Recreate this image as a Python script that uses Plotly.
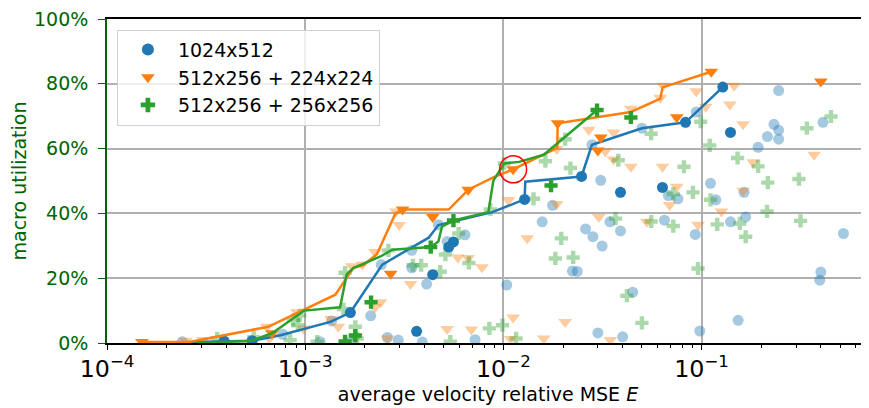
import plotly.graph_objects as go

# ---- data (x: average velocity relative MSE, y: macro utilization in %) ----
series_names = ['1024x512', '512x256 + 224x224', '512x256 + 256x256']

# 1024x512
blue_front_x = [2.4e-4, 3.9e-4, 5.4e-4, 7.5e-4, 1.34e-3, 1.69e-3, 2.45e-3, 4.2e-3, 4.7e-3, 8.8e-3,
                1.28e-2, 1.29e-2, 2.48e-2, 2.8e-2, 5.0e-2, 8.3e-2, 1.28e-1]
blue_front_y = [0.2, 0.6, 0.7, 2.4, 6.5, 9.4, 24.2, 32.5, 36.4, 40.4,
                44.3, 49.8, 51.4, 61.2, 66.3, 68.1, 79.0]
blue_best_x = [3.9e-4, 5.4e-4, 1.69e-3, 1.28e-2, 2.48e-2, 8.3e-2, 1.28e-1,
               3.65e-3, 4.4e-3, 5.3e-3, 5.6e-3, 3.9e-2, 6.35e-2, 1.4e-1]
blue_best_y = [0.6, 0.7, 9.4, 44.3, 51.4, 68.1, 79.0,
               3.6, 21.1, 29.6, 31.2, 46.5, 48.0, 65.0]
blue_all_x = [2.4e-4, 7.7e-4, 1.36e-3, 1.19e-3, 1.69e-3, 2.14e-3, 2.42e-3, 2.6e-3, 2.95e-3, 3.45e-3,
              3.45e-3, 3.9e-3, 4.1e-3, 4.7e-3, 5.2e-3, 6.4e-3, 7.2e-3, 1.04e-2, 1.57e-2, 1.77e-2,
              2.23e-2, 2.36e-2, 2.6e-2, 2.83e-2, 3.15e-2, 2.8e-2, 3.1e-2, 3.45e-2, 3.9e-2, 3.0e-2,
              4.0e-2, 4.5e-2, 5.0e-2, 6.5e-2, 6.8e-2, 7.6e-2, 9.3e-2, 9.4e-2, 9.8e-2, 1.11e-1,
              1.18e-1, 1.4e-1, 1.64e-1, 1.67e-1, 1.53e-1, 1.93e-1, 2.15e-1, 2.32e-1, 2.45e-1, 2.45e-1,
              2.45e-1, 4.1e-1, 5.2e-1, 4.0e-1, 3.95e-1]
blue_all_y = [0.4, 2.7, 6.8, 0.4, 0.2, 8.4, 24.2, 1.7, 0.9, 28.6,
              23.2, 0.3, 18.2, 36.5, 31.3, 33.4, 1.0, 17.9, 37.4, 42.5,
              22.2, 22.1, 35.2, 32.8, 29.9, 61.2, 50.2, 37.4, 34.6, 3.1,
              1.9, 15.7, 66.3, 37.9, 45.5, 44.5, 33.5, 71.3, 3.7, 49.3,
              44.2, 37.4, 46.5, 38.9, 7.0, 60.4, 63.7, 67.5, 65.7, 62.9,
              77.9, 68.1, 33.8, 21.9, 19.4]

# 512x256 + 224x224
orange_front_x = [1.5e-4, 2.6e-4, 6.5e-4, 1.42e-3, 1.75e-3, 1.96e-3, 2.3e-3, 2.85e-3, 3.1e-3, 5.3e-3,
                  6.65e-3, 8.9e-3, 1.12e-2, 1.6e-2, 1.87e-2, 1.88e-2, 4.4e-2, 6.2e-2, 6.35e-2, 1.12e-1]
orange_front_y = [0.3, 0.3, 5.0, 14.9, 23.2, 24.0, 27.4, 39.9, 41.2, 41.2,
                  47.3, 51.1, 53.6, 58.1, 60.2, 67.8, 71.3, 75.4, 78.9, 83.7]
orange_best_x = [1.5e-4, 3.1e-3, 6.65e-3, 1.12e-2, 1.88e-2, 1.12e-1,
                 6.8e-4, 2.7e-3, 4.4e-3, 3.0e-2, 3.1e-2, 7.5e-2, 4.0e-1]
orange_best_y = [0.3, 41.2, 47.3, 53.6, 67.8, 83.7,
                 3.0, 21.4, 38.9, 59.4, 63.4, 69.7, 80.7]
orange_all_x = [2.5e-4, 3.05e-4, 6.4e-4, 6.6e-4, 9.1e-4, 9.8e-4, 1.35e-3, 1.47e-3, 1.72e-3, 1.94e-3,
                2.25e-3, 1.82e-3, 2.25e-3, 2.4e-3, 2.6e-3, 2.87e-3, 2.98e-3, 3.4e-3, 5.2e-3, 5.9e-3,
                6.65e-3, 7.8e-3, 6.9e-3, 1.06e-2, 1.12e-2, 1.09e-2, 1.32e-2, 1.6e-2, 1.86e-2, 1.86e-2,
                2.05e-2, 2.7e-2, 3.03e-2, 3.27e-2, 3.6e-2, 3.47e-2, 3.6e-2, 4.4e-2, 4.4e-2, 5.3e-2,
                6.2e-2, 6.4e-2, 6.35e-2, 6.9e-2, 7.5e-2, 9.4e-2, 9.6e-2, 1.05e-1, 1.26e-1, 1.39e-1,
                1.46e-1, 1.62e-1, 1.62e-1, 1.82e-1, 3.7e-1]
orange_all_y = [0.7, 0.9, 5.0, 1.4, 9.5, 4.5, 7.4, 5.0, 23.7, 24.2,
                28.1, 1.9, 11.0, 12.6, 1.4, 40.6, 36.4, 18.2, 4.3, 26.4,
                26.2, 23.4, 4.2, 44.1, 7.9, 1.2, 32.3, 1.4, 42.9, 59.9,
                6.5, 65.8, 38.9, 59.2, 65.0, 0.9, 56.6, 72.3, 54.4, 37.4,
                75.7, 79.4, 54.4, 42.6, 48.2, 77.7, 36.5, 72.9, 40.6, 73.6,
                79.4, 67.5, 47.0, 55.8, 58.1]

# 512x256 + 256x256
green_front_x = [2.8e-4, 5.3e-4, 6.8e-4, 9.9e-4, 1.5e-3, 1.62e-3, 1.75e-3, 2.4e-3, 2.75e-3, 4.3e-3,
                 4.7e-3, 4.9e-3, 5.6e-3, 8.4e-3, 8.9e-3, 1.01e-2, 1.2e-2, 1.6e-2, 2.97e-2]
green_front_y = [0.1, 0.6, 3.0, 10.0, 11.0, 21.2, 23.1, 26.7, 28.8, 29.6,
                 31.3, 35.9, 37.8, 40.4, 50.1, 55.4, 55.9, 58.1, 71.9]
green_best_x = [4.3e-3, 5.6e-3, 2.97e-2, 1.59e-3, 1.79e-3, 2.15e-3, 1.74e-2, 4.4e-2]
green_best_y = [29.6, 37.8, 71.9, 0.5, 2.3, 12.6, 48.6, 69.6]
green_all_x = [3.6e-4, 5.5e-4, 8.4e-4, 8.7e-4, 9.2e-4, 9.4e-4, 1.15e-3, 1.56e-3, 1.59e-3, 1.79e-3,
               1.83e-3, 2.63e-3, 3.5e-3, 3.85e-3, 4.8e-3, 5.1e-3, 5.95e-3, 6.7e-3, 5.4e-3, 8.5e-3,
               8.6e-3, 9.9e-3, 1.16e-2, 1.01e-2, 1.42e-2, 1.63e-2, 1.83e-2, 1.96e-2, 2.05e-2, 2.18e-2,
               2.25e-2, 3.68e-2, 3.8e-2, 4.2e-2, 5.0e-2, 5.57e-2, 5.57e-2, 7.2e-2, 7.2e-2, 8.15e-2,
               9.05e-2, 9.6e-2, 9.9e-2, 1.1e-1, 1.11e-1, 1.2e-1, 1.52e-1, 1.56e-1, 1.67e-1, 1.93e-1,
               2.14e-1, 2.16e-1, 3.1e-1, 3.16e-1, 3.4e-1, 4.5e-1]
green_all_y = [1.4, 1.8, 0.9, 7.1, 5.5, 8.5, 0.4, 10.5, 21.7, 5.0,
               1.4, 28.6, 24.0, 24.0, 22.0, 27.3, 33.8, 24.7, 0.4, 4.5,
               41.2, 5.5, 1.4, 55.4, 44.5, 56.1, 26.1, 32.3, 62.9, 54.0,
               26.4, 38.4, 56.4, 14.6, 6.2, 64.6, 37.5, 36.1, 46.0, 54.4,
               46.5, 23.0, 68.3, 61.0, 44.2, 36.6, 57.1, 36.9, 32.8, 54.5,
               40.6, 49.5, 50.6, 37.7, 66.3, 69.9]

# highlighted configuration (red circle)
highlight_x = [1.12e-2]
highlight_y = [53.6]

colors = ['#1f77b4', '#ff7f0e', '#2ca02c']
symbols = ['circle', 'triangle-down', 'cross']
sizes = [11, 12, 11]
series = [
    (blue_all_x, blue_all_y, blue_front_x, blue_front_y, blue_best_x, blue_best_y),
    (orange_all_x, orange_all_y, orange_front_x, orange_front_y, orange_best_x, orange_best_y),
    (green_all_x, green_all_y, green_front_x, green_front_y, green_best_x, green_best_y),
]

fig = go.Figure()

# faint clouds of all runs first
for (ax, ay, fx, fy, bx, by), c, s, sz in zip(series, colors, symbols, sizes):
    fig.add_trace(go.Scatter(x=ax, y=ay, mode='markers', showlegend=False,
                             marker=dict(color=c, symbol=s, size=sz, opacity=0.4, line=dict(width=0))))

# fronts and the solid markers on top
for (ax, ay, fx, fy, bx, by), c, s, sz, name in zip(series, colors, symbols, sizes, series_names):
    fig.add_trace(go.Scatter(x=fx, y=fy, mode='lines', showlegend=False,
                             line=dict(color=c, width=2.5)))
    fig.add_trace(go.Scatter(x=bx, y=by, mode='markers', name=name,
                             marker=dict(color=c, symbol=s, size=sz, line=dict(width=0))))

fig.add_trace(go.Scatter(x=highlight_x, y=highlight_y, mode='markers', showlegend=False,
                         marker=dict(symbol='circle-open', size=27, color='red',
                                     line=dict(color='red', width=1.5))))

font = 'DejaVu Sans, Arial, sans-serif'
# the page body adds an 8px offset, so the figure is 8px smaller than the window
fig.update_layout(
    width=861, height=400,
    margin=dict(l=99, r=0, t=6, b=65),
    paper_bgcolor='white', plot_bgcolor='white',
    font=dict(family=font, size=19, color='black'),
    legend=dict(x=0.013, y=0.967, xanchor='left', yanchor='top',
                bgcolor='rgba(255,255,255,0.8)', bordercolor='#d0d0d0', borderwidth=1,
                font=dict(size=19), itemsizing='constant', itemwidth=50, tracegroupgap=0),
)
fig.update_xaxes(
    type='log', range=[-4, -0.155], dtick=1, exponentformat='power',
    showgrid=True, gridcolor='#b0b0b0', gridwidth=1.5,
    showline=True, linecolor='black', linewidth=1.8, mirror=True,
    ticks='outside', ticklen=5, tickwidth=1.3, tickcolor='black',
    minor=dict(ticks='outside', ticklen=3.5, tickwidth=1, tickcolor='black', dtick='D1', showgrid=False),
    title=dict(text='average velocity relative MSE <i>E</i>', font=dict(size=19), standoff=2),
    tickfont=dict(size=19), zeroline=False,
)
fig.update_yaxes(
    range=[0, 100], dtick=20, ticksuffix='%',
    showgrid=True, gridcolor='#b0b0b0', gridwidth=1.5,
    showline=True, linecolor='darkgreen', linewidth=1.8,
    ticks='outside', ticklen=7, tickwidth=1.3, tickcolor='darkgreen', ticklabelstandoff=6,
    ticklabeloverflow='allow',
    tickfont=dict(size=19, color='darkgreen'),
    title=dict(text='macro utilization', font=dict(size=19, color='darkgreen'), standoff=10),
    zeroline=False,
)

fig.write_html("out.html")
